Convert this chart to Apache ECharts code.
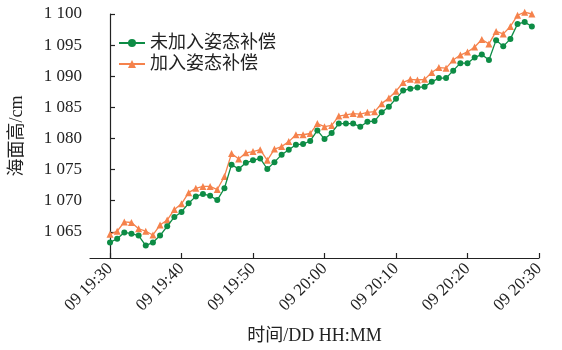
<!DOCTYPE html>
<html>
<head>
<meta charset="utf-8">
<script src="https://cdn.jsdelivr.net/npm/echarts@6/dist/echarts.min.js"></script>
<style>
  html, body { margin: 0; padding: 0; background: #fff; }
  #chart { width: 562px; height: 350px; }
</style>
</head>
<body>
<div id="chart"></div>
<script>
// Sea surface height, one sample per minute from 09 19:30 to 09 20:29

// Without attitude compensation (cm)
const heightRaw = [
  1063.3, 1063.9, 1064.9, 1064.7, 1064.4, 1062.8, 1063.3, 1064.4, 1065.9, 1067.4,
  1068.2, 1069.6, 1070.7, 1071.1, 1070.8, 1070.1, 1072.0, 1075.8, 1075.1, 1076.1,
  1076.5, 1076.8, 1075.1, 1076.2, 1077.4, 1078.2, 1079.0, 1079.1, 1079.6, 1081.3,
  1079.9, 1080.9, 1082.4, 1082.4, 1082.4, 1081.9, 1082.7, 1082.8, 1084.2, 1085.1,
  1086.4, 1087.7, 1088.0, 1088.2, 1088.3, 1089.1, 1089.7, 1089.7, 1090.9, 1092.1,
  1092.1, 1093.0, 1093.5, 1092.6, 1095.8, 1094.8, 1096.0, 1098.4, 1098.7, 1098.0
];

// With attitude compensation (cm)
const heightComp = [
  1064.6, 1065.1, 1066.6, 1066.5, 1065.5, 1065.1, 1064.5, 1066.1, 1066.9, 1068.6,
  1069.5, 1071.3, 1072.0, 1072.3, 1072.3, 1071.8, 1073.9, 1077.6, 1076.7, 1077.7,
  1077.9, 1078.2, 1076.5, 1078.3, 1078.7, 1079.5, 1080.6, 1080.6, 1080.8, 1082.4,
  1081.9, 1082.1, 1083.6, 1083.8, 1084.0, 1083.9, 1084.2, 1084.3, 1085.6, 1086.5,
  1087.6, 1089.0, 1089.5, 1089.4, 1089.5, 1090.6, 1091.4, 1091.3, 1092.6, 1093.4,
  1093.9, 1094.7, 1095.9, 1095.2, 1097.2, 1096.8, 1098.0, 1099.8, 1100.3, 1100.0
];

// Axis tick labels (x ticks in minutes after 09 19:30)
const xTickMinutes = [0, 10, 20, 30, 40, 50, 60];
const xTickLabels = ['09 19:30', '09 19:40', '09 19:50', '09 20:00', '09 20:10', '09 20:20', '09 20:30'];
const yTickValues = [1065, 1070, 1075, 1080, 1085, 1090, 1095, 1100];

const seriesNames = ['未加入姿态补偿', '加入姿态补偿'];

const minuteIndex = heightRaw.map((_, i) => i);
const pairs = vals => vals.map((v, i) => [minuteIndex[i], v]);

const FONT = '"Liberation Serif", "Noto Sans CJK SC", serif';
const GREEN = '#0d8c45';
const ORANGE = '#f5824c';

// "1100" -> "1 100"
const fmtY = v => {
  const s = String(Math.round(v));
  return s.length > 3 ? s.slice(0, s.length - 3) + ' ' + s.slice(-3) : s;
};

const chart = echarts.init(document.getElementById('chart'), null, { renderer: 'canvas' });
chart.setOption({
  animation: false,
  backgroundColor: '#ffffff',
  grid: { left: 90, right: 23, top: 14, bottom: 88, containLabel: false },
  legend: {
    left: 113,
    top: 29,
    orient: 'vertical',
    itemWidth: 26,
    itemHeight: 10,
    itemGap: 3,
    data: seriesNames,
    textStyle: { fontFamily: FONT, fontSize: 18, color: '#222', lineHeight: 18 }
  },
  xAxis: {
    type: 'value',
    min: -2.8,
    max: 60,
    name: '时间/DD HH:MM',
    nameLocation: 'middle',
    nameGap: 69,
    nameTextStyle: { fontFamily: FONT, fontSize: 18, color: '#222' },
    splitLine: { show: false },
    axisLine: { show: true, lineStyle: { color: '#222', width: 1.2 } },
    axisTick: { show: true, inside: true, length: 5, customValues: xTickMinutes, lineStyle: { color: '#222', width: 1.2 } },
    axisLabel: {
      customValues: xTickMinutes,
      rotate: 45,
      margin: 8,
      fontFamily: FONT,
      fontSize: 17,
      color: '#222',
      formatter: v => xTickLabels[xTickMinutes.indexOf(Math.round(v))] || ''
    }
  },
  yAxis: {
    type: 'value',
    min: 1060.8,
    max: 1100,
    name: '海面高/cm',
    nameLocation: 'middle',
    nameGap: 64,
    nameTextStyle: { fontFamily: FONT, fontSize: 18, color: '#222' },
    splitLine: { show: false },
    axisLine: { show: true, lineStyle: { color: '#222', width: 1.2 } },
    axisTick: { show: true, inside: true, length: 5, customValues: yTickValues, lineStyle: { color: '#222', width: 1.2 } },
    axisLabel: {
      customValues: yTickValues,
      margin: 8,
      fontFamily: FONT,
      fontSize: 17,
      color: '#222',
      formatter: fmtY
    }
  },
  series: [
    {
      name: seriesNames[0],
      type: 'line',
      data: pairs(heightRaw),
      clip: false,
      symbol: 'circle',
      symbolSize: 6,
      itemStyle: { color: GREEN },
      lineStyle: { color: GREEN, width: 1.3 },
      z: 3
    },
    {
      name: seriesNames[1],
      type: 'line',
      data: pairs(heightComp),
      clip: false,
      symbol: 'triangle',
      symbolSize: 7,
      itemStyle: { color: ORANGE },
      lineStyle: { color: ORANGE, width: 1.3 },
      z: 2
    }
  ]
});
</script>
</body>
</html>
